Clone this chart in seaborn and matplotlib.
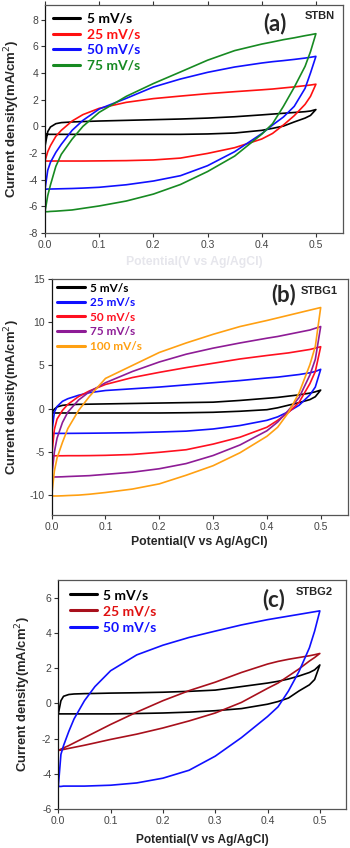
import numpy as np
import pandas as pd
import matplotlib
matplotlib.use("Agg")
import matplotlib.pyplot as plt
import seaborn as sns

# -------------------------
# Data
# -------------------------
POTENTIAL = [0.0, 0.005, 0.01, 0.02, 0.03, 0.05, 0.07, 0.1, 0.15, 0.2, 0.25,
             0.3, 0.35, 0.4, 0.42, 0.44, 0.46, 0.48, 0.49, 0.5]

# (a) STBN: anodic (up) and cathodic (dn) branches
A_RATES = ["5 mV/s", "25 mV/s", "50 mV/s", "75 mV/s"]
A_5_UP = [-1.5, -0.4, -0.05, 0.2, 0.28, 0.33, 0.36, 0.4, 0.45, 0.5, 0.55, 0.62, 0.72, 0.86, 0.92, 0.98, 1.04, 1.1, 1.15, 1.26]
A_5_DN = [-0.6, -0.6, -0.6, -0.6, -0.6, -0.6, -0.6, -0.6, -0.6, -0.6, -0.6, -0.57, -0.5, -0.3, -0.15, 0.02, 0.33, 0.62, 0.82, 1.26]
A_25_UP = [-2.6, -1.9, -1.45, -0.75, -0.3, 0.4, 0.88, 1.35, 1.8, 2.08, 2.27, 2.45, 2.6, 2.74, 2.8, 2.88, 2.96, 3.05, 3.1, 3.16]
A_25_DN = [-2.6, -2.6, -2.6, -2.6, -2.6, -2.6, -2.6, -2.59, -2.57, -2.52, -2.38, -2.03, -1.6, -0.95, -0.53, 0.1, 0.8, 1.65, 2.25, 3.16]
A_50_UP = [-4.72, -3.3, -2.7, -1.95, -1.35, -0.3, 0.45, 1.3, 2.1, 2.95, 3.55, 4.05, 4.45, 4.75, 4.85, 4.93, 5.02, 5.12, 5.18, 5.25]
A_50_DN = [-4.72, -4.7, -4.7, -4.69, -4.68, -4.66, -4.63, -4.57, -4.38, -4.1, -3.7, -2.95, -1.9, -0.55, 0.1, 0.7, 1.5, 2.85, 4.0, 5.25]
A_75_UP = [-6.4, -5.2, -4.4, -3.0, -2.1, -0.96, 0.0, 1.05, 2.25, 3.21, 4.08, 4.96, 5.68, 6.17, 6.33, 6.5, 6.64, 6.8, 6.87, 6.95]
A_75_DN = [-6.4, -6.4, -6.38, -6.36, -6.33, -6.27, -6.15, -5.97, -5.6, -5.08, -4.36, -3.39, -2.23, -0.59, 0.2, 1.5, 2.93, 4.5, 5.6, 6.95]

# (b) STBG1
B_RATES = ["5 mV/s", "25 mV/s", "50 mV/s", "75 mV/s", "100 mV/s"]
B_5_UP = [-0.5, -0.05, 0.2, 0.38, 0.45, 0.5, 0.52, 0.55, 0.6, 0.65, 0.7, 0.75, 0.95, 1.2, 1.3, 1.45, 1.6, 1.8, 1.95, 2.15]
B_5_DN = [-0.5, -0.5, -0.5, -0.5, -0.5, -0.5, -0.5, -0.5, -0.5, -0.5, -0.47, -0.42, -0.3, -0.12, 0.1, 0.4, 0.7, 1.05, 1.38, 2.15]
B_25_UP = [-2.86, -0.4, 0.25, 0.85, 1.15, 1.55, 1.85, 2.1, 2.3, 2.5, 2.75, 3.0, 3.25, 3.55, 3.65, 3.8, 3.95, 4.15, 4.3, 4.55]
B_25_DN = [-2.86, -2.86, -2.86, -2.86, -2.86, -2.85, -2.84, -2.82, -2.78, -2.7, -2.6, -2.35, -1.95, -1.35, -0.95, -0.35, 0.4, 1.6, 2.5, 4.55]
B_50_UP = [-5.45, -2.4, -1.2, -0.2, 0.5, 1.4, 2.05, 2.8, 3.6, 4.2, 4.75, 5.25, 5.75, 6.15, 6.3, 6.45, 6.65, 6.85, 7.0, 7.17]
B_50_DN = [-5.45, -5.45, -5.45, -5.45, -5.44, -5.44, -5.43, -5.4, -5.3, -5.05, -4.75, -4.1, -3.3, -2.15, -1.35, -0.45, 0.75, 2.9, 4.3, 7.17]
B_75_UP = [-7.9, -5.0, -3.4, -1.6, -0.4, 1.0, 1.95, 3.0, 4.3, 5.4, 6.3, 7.0, 7.6, 8.15, 8.35, 8.6, 8.85, 9.1, 9.3, 9.5]
B_75_DN = [-7.9, -7.9, -7.9, -7.88, -7.85, -7.8, -7.75, -7.6, -7.35, -6.95, -6.35, -5.42, -4.2, -2.56, -1.55, -0.2, 1.3, 3.9, 5.7, 9.5]
B_100_UP = [-10.1, -7.2, -5.7, -3.9, -2.3, -0.2, 1.4, 3.5, 5.0, 6.5, 7.6, 8.6, 9.5, 10.2, 10.5, 10.8, 11.1, 11.4, 11.55, 11.7]
B_100_DN = [-10.1, -10.1, -10.1, -10.08, -10.05, -10.0, -9.9, -9.7, -9.3, -8.7, -7.7, -6.6, -5.1, -3.2, -2.15, -0.45, 1.85, 5.1, 7.2, 11.7]

# (c) STBG2
C_RATES = ["5 mV/s", "25 mV/s", "50 mV/s"]
C_5_UP = [-0.6, 0.15, 0.4, 0.5, 0.53, 0.55, 0.56, 0.58, 0.6, 0.63, 0.68, 0.75, 0.95, 1.15, 1.25, 1.38, 1.55, 1.75, 1.9, 2.18]
C_5_DN = [-0.6, -0.6, -0.6, -0.6, -0.6, -0.6, -0.6, -0.6, -0.58, -0.55, -0.5, -0.42, -0.3, -0.05, 0.1, 0.3, 0.7, 1.05, 1.35, 2.18]
C_25_UP = [-2.68, -2.6, -2.53, -2.4, -2.25, -1.95, -1.65, -1.2, -0.5, 0.15, 0.72, 1.2, 1.75, 2.23, 2.38, 2.5, 2.6, 2.7, 2.76, 2.83]
C_25_DN = [-2.68, -2.65, -2.62, -2.56, -2.5, -2.38, -2.25, -2.05, -1.75, -1.4, -1.0, -0.55, 0.05, 0.85, 1.15, 1.55, 1.95, 2.4, 2.6, 2.83]
C_50_UP = [-4.72, -2.9, -2.4, -1.6, -0.89, 0.15, 0.95, 1.85, 2.75, 3.3, 3.74, 4.1, 4.45, 4.75, 4.85, 4.95, 5.05, 5.15, 5.2, 5.25]
C_50_DN = [-4.72, -4.72, -4.7, -4.7, -4.7, -4.7, -4.68, -4.65, -4.52, -4.25, -3.8, -3.0, -1.95, -0.75, -0.2, 0.7, 1.8, 3.15, 4.1, 5.25]


def loop_frame(rates, branches):
    rows = []
    for rate, (up, dn) in zip(rates, branches):
        v = POTENTIAL + POTENTIAL[::-1]
        i = up + dn[::-1]
        for k, (vv, ii) in enumerate(zip(v, i)):
            rows.append({"rate": rate, "order": k, "V": vv, "I": ii})
    return pd.DataFrame(rows)


sns.set_style("ticks")
plt.rcParams["font.family"] = ["Liberation Sans", "DejaVu Sans"]
LEG_FONT = ["Lato", "DejaVu Sans"]

fig = plt.figure(figsize=(3.5, 8.48), dpi=100)
ax_a = fig.add_axes([0.1286, 0.7252, 0.8514, 0.2689])
ax_b = fig.add_axes([0.1477, 0.3927, 0.8454, 0.2783])
ax_c = fig.add_axes([0.1666, 0.0460, 0.8220, 0.2700])

panels = [
    dict(ax=ax_a, rates=A_RATES,
         branches=[(A_5_UP, A_5_DN), (A_25_UP, A_25_DN), (A_50_UP, A_50_DN), (A_75_UP, A_75_DN)],
         colors=["black", "#ff1010", "#1010ff", "#178a22"], tcolors=None,
         ylim=(-8, 9.1), yticks=[-8, -6, -4, -2, 0, 2, 4, 6, 8],
         tag="(a)", tag_xy=(0.772, 0.917), name="STBN", name_xy=(0.973, 0.95),
         leg_xy=(0.027, 0.965), leg_size=10, hlen=1.95, hpad=0.5, lspace=0.25,
         ylab_size=9.5, ylab_x=-0.078, xlab_size=8.8, xlab_pad=4),
    dict(ax=ax_b, rates=B_RATES,
         branches=[(B_5_UP, B_5_DN), (B_25_UP, B_25_DN), (B_50_UP, B_50_DN), (B_75_UP, B_75_DN), (B_100_UP, B_100_DN)],
         colors=["black", "#1010ff", "#ff1020", "#8e1c96", "#ffa012"], tcolors=None,
         ylim=(-12.3, 15), yticks=[-10, -5, 0, 5, 10, 15],
         tag="(b)", tag_xy=(0.783, 0.936), name="STBG1", name_xy=(0.967, 0.949),
         leg_xy=(0.018, 0.985), leg_size=8.5, hlen=2.35, hpad=0.42, lspace=0.3,
         ylab_size=9.4, ylab_x=-0.1, xlab_size=8.8, xlab_pad=3),
    dict(ax=ax_c, rates=C_RATES,
         branches=[(C_5_UP, C_5_DN), (C_25_UP, C_25_DN), (C_50_UP, C_50_DN)],
         colors=["black", "#a8101c", "#1010ff"], tcolors=["black", "#e01010", "#1010ff"],
         ylim=(-6, 7), yticks=[-6, -4, -2, 0, 2, 4, 6],
         tag="(c)", tag_xy=(0.747, 0.917), name="STBG2", name_xy=(0.954, 0.948),
         leg_xy=(0.041, 0.96), leg_size=10, hlen=1.95, hpad=0.43, lspace=0.3,
         ylab_size=9.4, ylab_x=-0.088, xlab_size=8.6, xlab_pad=6),
]

for p in panels:
    ax = p["ax"]
    df = loop_frame(p["rates"], p["branches"])
    sns.lineplot(data=df, x="V", y="I", hue="rate", palette=p["colors"], hue_order=p["rates"],
                 sort=False, estimator=None, linewidth=1.2, ax=ax, legend=True)
    handles, labels = ax.get_legend_handles_labels()
    ax.set_xlim(0, 0.55)
    ax.set_ylim(*p["ylim"])
    ax.set_xticks([0.0, 0.1, 0.2, 0.3, 0.4, 0.5])
    ax.set_xticklabels(["0.0", "0.1", "0.2", "0.3", "0.4", "0.5"])
    ax.set_yticks(p["yticks"])
    ax.set_yticklabels([str(t) for t in p["yticks"]])
    ax.tick_params(axis="both", direction="out", length=3, width=0.8,
                   labelsize=7.5, labelcolor="#444444", color="#333333", pad=2)
    for s in ax.spines.values():
        s.set_visible(True)
        s.set_color("#555555")
        s.set_linewidth(0.9)
    ax.spines["left"].set_color("#111111")
    ax.set_ylabel("Current density(mA/cm$^2$)", fontsize=p["ylab_size"], fontweight="bold")
    ax.yaxis.set_label_coords(p["ylab_x"], 0.5)
    ax.set_xlabel("Potential(V vs Ag/AgCl)", fontsize=p["xlab_size"], fontweight="bold",
                  labelpad=p["xlab_pad"])

    leg = ax.legend(handles, labels, loc="upper left", bbox_to_anchor=p["leg_xy"],
                    frameon=False,
                    prop={"family": LEG_FONT, "weight": "bold", "size": p["leg_size"]},
                    handlelength=p["hlen"], handletextpad=p["hpad"], labelspacing=p["lspace"],
                    borderpad=0, borderaxespad=0)
    tcols = p["tcolors"] if p["tcolors"] else p["colors"]
    for txt, c in zip(leg.get_texts(), tcols):
        txt.set_color(c)
    for ln in leg.get_lines():
        ln.set_linewidth(2.2)

    ax.text(*p["tag_xy"], p["tag"], transform=ax.transAxes, ha="center", va="center",
            fontsize=16, fontweight="bold", family=LEG_FONT)
    ax.text(*p["name_xy"], p["name"], transform=ax.transAxes, ha="right", va="center",
            fontsize=8, fontweight="bold")

# panel (a): ticks on top too, x label almost washed out
ax_a.tick_params(axis="x", top=True)
ax_a.xaxis.label.set_color("#e6e6ec")

fig.savefig("out.png", dpi=100)
